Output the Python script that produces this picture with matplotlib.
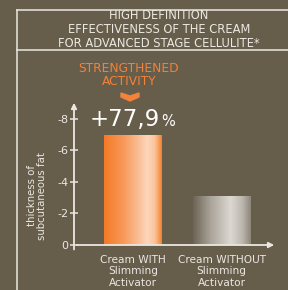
import numpy as np
import matplotlib
matplotlib.use("Agg")
import matplotlib.pyplot as plt
from matplotlib.lines import Line2D
from matplotlib.patches import Polygon
from matplotlib.colors import LinearSegmentedColormap

# data
categories = ["Cream WITH\nSlimming\nActivator", "Cream WITHOUT\nSlimming\nActivator"]
values = [-7.0, -3.1]
ytick_values = [0, -2, -4, -6, -8]
ytick_labels = ["0", "-2", "-4", "-6", "-8"]
title_lines = "HIGH DEFINITION\nEFFECTIVENESS OF THE CREAM\nFOR ADVANCED STAGE CELLULITE*"
highlight = "STRENGTHENED\nACTIVITY"
gain_label = "+77,9"

BG = "#665d4b"
FG = "#ebe8e2"
ORANGE = "#f3823a"

fig = plt.figure(figsize=(2.88, 2.90), dpi=100, facecolor=BG)
W, H = 288, 290


def fx(px):
    return px / W


def fy(py):
    return 1 - py / H


# frame lines
fig.add_artist(Line2D([fx(17), fx(17)], [fy(10), 0], color=FG, lw=1.1))
fig.add_artist(Line2D([fx(17), 1], [fy(10), fy(10)], color=FG, lw=1.1))
fig.add_artist(Line2D([fx(17), 1], [fy(50), fy(50)], color=FG, lw=1.1))

fig.text(fx(159), fy(29.5), title_lines, ha="center", va="center", color=FG,
         fontsize=8.3, linespacing=1.08)

ax = fig.add_axes([fx(74), fy(245), fx(277) - fx(74), (245 - 100) / H])
ax.set_facecolor(BG)

x = np.arange(len(categories))
bars = ax.bar(x, values, width=0.655, color="none", edgecolor="none")

orange_cmap = LinearSegmentedColormap.from_list(
    "org", [(0, "#f47a26"), (0.35, "#f79a5c"), (0.75, "#fcd6bb"), (0.88, "#fbc39c"), (1.0, "#f4822a")])
grey_cmap = LinearSegmentedColormap.from_list(
    "gry", [(0, "#6c6454"), (0.3, "#a9a399"), (0.65, "#dcd9d2"), (0.85, "#bdb8ae"), (1.0, "#8c867a")])
grad = np.linspace(0, 1, 256).reshape(1, -1)
for bar, cmap in zip(bars, [orange_cmap, grey_cmap]):
    x0 = bar.get_x()
    x1 = x0 + bar.get_width()
    h = bar.get_height()
    im = ax.imshow(grad, cmap=cmap, aspect="auto", extent=[x0, x1, 0, h],
                   origin="lower", zorder=2)
    im.set_clip_path(bar)

ax.set_xlim(-0.667, 1.627)
ax.set_ylim(0, -9.2)

for s in ax.spines.values():
    s.set_visible(False)

# axis lines with arrows
ax.annotate("", xy=(0, 1.0), xytext=(0, -0.05), xycoords="axes fraction",
            arrowprops=dict(arrowstyle="-|>", color=FG, lw=1.3, mutation_scale=8),
            annotation_clip=False)
ax.annotate("", xy=(1.0, 0), xytext=(0, 0), xycoords="axes fraction",
            arrowprops=dict(arrowstyle="-|>", color=FG, lw=1.3, mutation_scale=8),
            annotation_clip=False)

ax.set_yticks(ytick_values)
ax.set_yticklabels(ytick_labels)
ax.tick_params(axis="y", colors=FG, direction="inout", length=6, width=1.1,
               labelsize=8, pad=1)
ax.set_xticks(x)
ax.set_xticklabels(categories, color=FG, fontsize=7.6, linespacing=1.2)
ax.tick_params(axis="x", length=0, pad=7)

ax.set_ylabel("thickness of\nsubcutaneous fat", color=FG, fontsize=7.3,
              linespacing=1.0)
ax.yaxis.set_label_coords(-0.135, 0.34)

# gain annotation above first bar
ax.annotate(gain_label, xy=(x[0], values[0]), xytext=(19, 3),
            textcoords="offset points", ha="right", va="bottom",
            color="white", fontsize=16.5)
ax.annotate("%", xy=(x[0], values[0]), xytext=(20.5, 4),
            textcoords="offset points", ha="left", va="bottom",
            color="white", fontsize=10.5)

fig.text(fx(129), fy(75), highlight, ha="center", va="center", color=ORANGE,
         fontsize=8.8, linespacing=0.95)
fig.add_artist(Polygon([(fx(121), fy(93)), (fx(130), fy(96)), (fx(139), fy(93)),
                        (fx(139), fy(97)), (fx(130), fy(101)), (fx(121), fy(97))],
                       closed=True, color=ORANGE, transform=fig.transFigure))

fig.savefig("out.png", dpi=100, facecolor=BG)
